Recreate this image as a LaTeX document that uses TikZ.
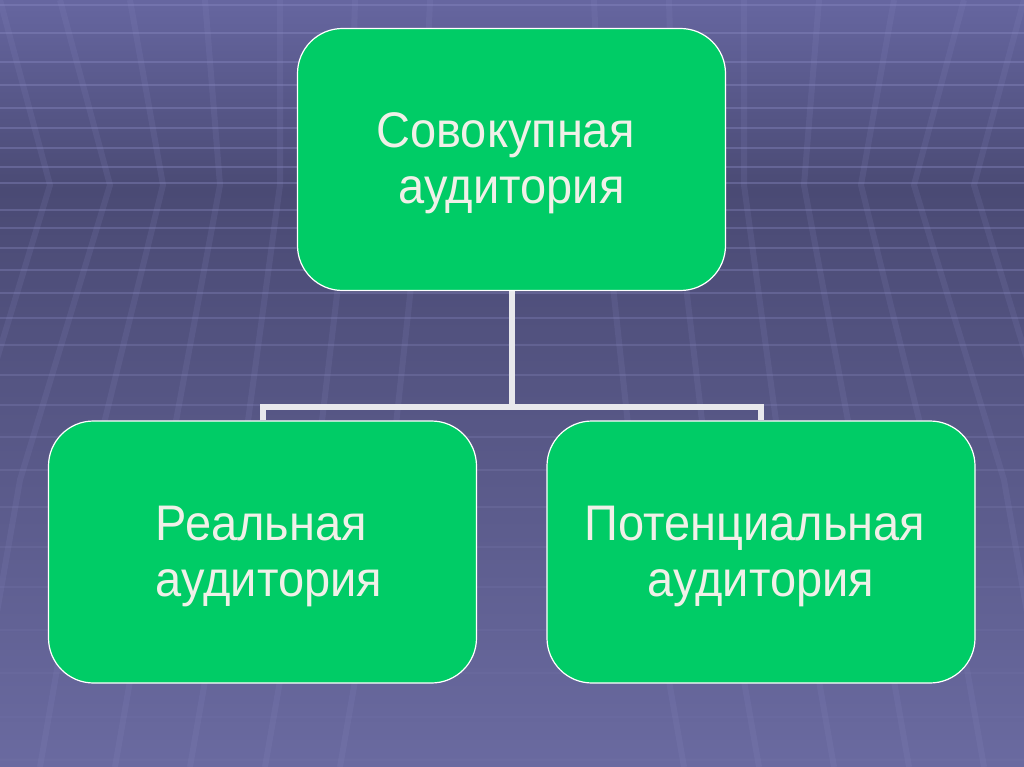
\documentclass[tikz,border=0pt]{standalone}
\usepackage{fontspec}
\setmainfont{Liberation Sans}[FakeStretch=0.94]
\definecolor{boxgreen}{HTML}{00CC66}
\definecolor{txtc}{HTML}{F0F0E8}
\definecolor{connc}{HTML}{E8E8EC}
\definecolor{bgtop}{HTML}{6666A0}
\definecolor{bgmid}{HTML}{4A4A74}
\definecolor{bgbot}{HTML}{6A6AA0}
\definecolor{gridc}{HTML}{8C8CC4}
\pgfdeclarelayer{bglayer}
\pgfdeclarelayer{connlayer}
\pgfsetlayers{bglayer,connlayer,main}
\begin{document}
\begin{tikzpicture}[x=1pt,y=-1pt,
  box/.style={draw=white, line width=1.2pt, fill=boxgreen, rounded corners=45pt,
              minimum width=428pt, minimum height=262pt, inner sep=0pt},
  boxtext/.style={text=txtc, font=\fontsize{50}{56}\selectfont, align=center, inner sep=0pt},
  conn/.style={draw=connc, line width=6pt, line join=miter},
  hline/.style={draw=gridc, line width=2.2pt},
  vline/.style={draw=gridc, line width=6pt, opacity=0.15}]
\useasboundingbox (0,0) rectangle (1024,767);
\begin{pgfonlayer}{bglayer}
  \shade[top color=bgtop, bottom color=bgmid] (0,0) rectangle (1024,190);
  \shade[top color=bgmid, bottom color=bgbot] (0,189) rectangle (1024,767);
  \foreach \yy/\op in {5/0.38,33/0.38,62/0.38,85/0.38,108/0.38,128/0.38,148/0.38,167/0.38,183/0.38,
                       210/0.34,228/0.34,248/0.34,270/0.34,293/0.32,318/0.3,345/0.28,375/0.27,405/0.25,
                       437/0.22,470/0.2,507/0.17,547/0.14,587/0.12,630/0.1,673/0.09,717/0.08,760/0.07}
    \draw[hline, opacity=\op] (0,\yy) -- (1024,\yy);
  % chevron lines, left side and mirrored right side
  \foreach \xa/\d in {-70/50,0/50,60/50,130/33,205/15,280/0,355/-5,430/-8} {
    \draw[vline] (\xa,0) -- ({\xa+\d},185) -- ({\xa-40},480) -- ({\xa-90},767);
    \draw[vline] ({1024-\xa},0) -- ({1024-\xa-\d},185) -- ({1024-\xa+40},480) -- ({1024-\xa+90},767);
  }
\end{pgfonlayer}
% boxes
\node[box] (top)   at (511.5,159.5) {};
\node[box] (left)  at (262.5,552) {};
\node[box] (right) at (761,552) {};
% texts
\node[boxtext, yshift=-4pt] (ttop) at (top.center) {Совокупная\hspace*{12pt}\\аудитория};
\node[boxtext, align=left, yshift=-4pt, xshift=6.5pt] (tleft) at (left.center) {Реальная\\аудитория};
\node[boxtext, yshift=-4pt] (tright) at (right.center) {Потенциальная\hspace*{12pt}\\аудитория};
% connectors
\coordinate (j) at (511.5,407);
\begin{pgfonlayer}{connlayer}
  \draw[conn] (top.south) -- (j);
  \draw[conn] (left.north) |- (j) -| (right.north);
\end{pgfonlayer}
\end{tikzpicture}
\end{document}
